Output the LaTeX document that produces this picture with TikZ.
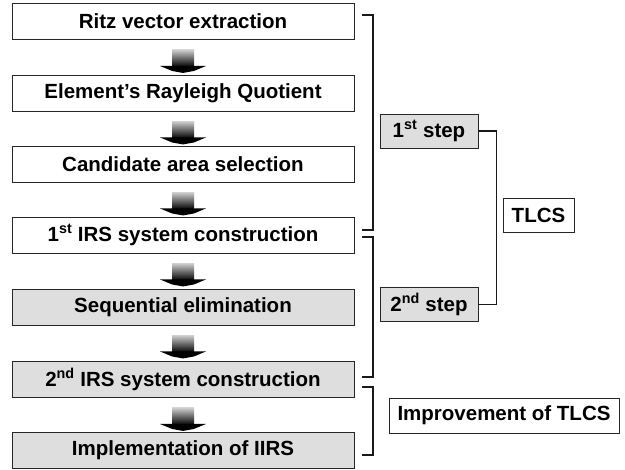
\documentclass[tikz,border=0pt]{standalone}
\usepackage{fontspec}
\setmainfont{Liberation Sans}
\newcommand\mydownarrow[1]{%
  \begin{scope}[shift={(#1.south)}]
    \shade[top color=black!20,bottom color=black] (-11,10) rectangle (11,27);
    \fill[black] (-23,26) -- (23,26) -- (11,31) -- (0,33) -- (-11,31) -- cycle;
  \end{scope}}
\begin{document}
\begin{tikzpicture}[x=1pt,y=-1pt,
  stepbox/.style={draw=black!85,line width=0.9pt,minimum width=342pt,minimum height=36pt,inner sep=0pt,font=\fontsize{20.5}{23}\selectfont\bfseries},
  graybox/.style={stepbox,fill=black!13},
  tagbox/.style={draw=black!85,line width=0.9pt,minimum height=34pt,inner sep=0pt,font=\fontsize{20.5}{23}\selectfont\bfseries},
  brk/.style={line width=1.6pt,black!90}]
\useasboundingbox (0,0) rectangle (625,470);
\node[stepbox] (b1) at (183,21.5) {Ritz vector extraction};
\node[stepbox] (b2) at (183,93) {Element's Rayleigh Quotient};
\node[stepbox] (b3) at (183,164) {Candidate area selection};
\node[stepbox] (b4) at (183,235) {1\textsuperscript{st} IRS system construction};
\node[graybox] (b5) at (183,307) {Sequential elimination};
\node[graybox] (b6) at (183,379.5) {2\textsuperscript{nd} IRS system construction};
\node[graybox] (b7) at (183,450.5) {Implementation of IIRS};
\foreach \n in {b1,b2,b3,b4,b5,b6} {\mydownarrow{\n}}
% side tags
\node[tagbox,fill=black!13,minimum width=98pt] (s1) at (429,131) {1\textsuperscript{st} step};
\node[tagbox,fill=black!13,minimum width=98pt] (s2) at (429,304.5) {2\textsuperscript{nd} step};
\node[tagbox,minimum width=71pt] (tl) at (538.5,215) {TLCS};
\node[tagbox,minimum width=230pt,minimum height=35pt] (imp) at (504,415.5) {Improvement of TLCS};
% brackets
\coordinate (k1a) at (362,15);  \coordinate (k1b) at (362,230);
\coordinate (k2a) at (362,237); \coordinate (k2b) at (362,377);
\coordinate (k3a) at (362,387); \coordinate (k3b) at (362,455);
\draw[brk] (k1a) -- ++(11,0) |- (k1b);
\draw[brk] (k2a) -- ++(11,0) |- (k2b);
\draw[brk] (k3a) -- ++(11,0) |- (k3b);
\draw[brk] (s1.east) -- ++(18,0) |- (s2.east);
\end{tikzpicture}
\end{document}
